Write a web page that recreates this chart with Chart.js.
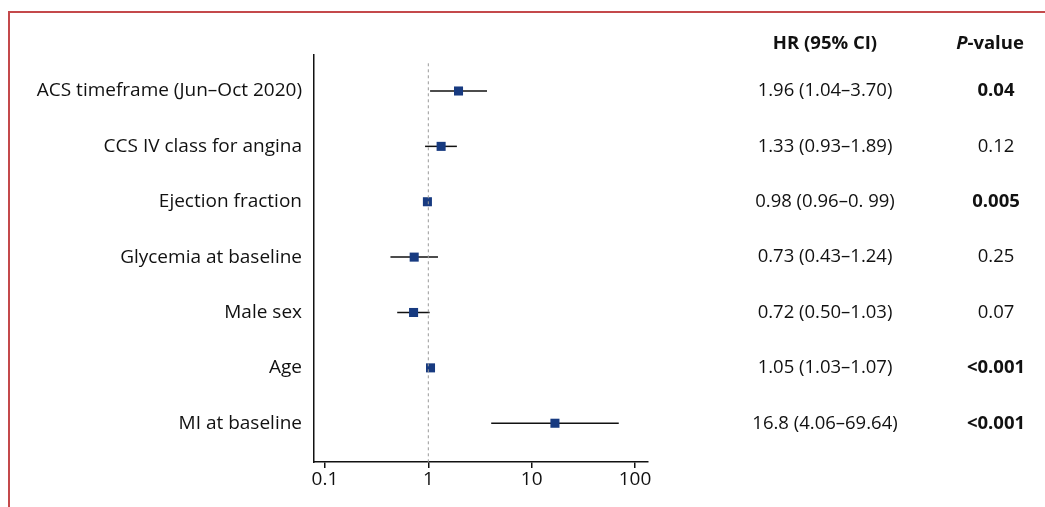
<!DOCTYPE html>
<html>
<head>
<meta charset="utf-8">
<script src="https://cdn.jsdelivr.net/npm/chart.js@4.4.1/dist/chart.umd.min.js"></script>
<style>
  body { margin: 0; background: #fff; }
  #wrap { position: relative; width: 1045px; height: 507px; }
  #frame { position: absolute; left: 8px; top: 11px; right: 0; bottom: 0; border-top: 2px solid #c4494b; border-left: 2px solid #c4494b; }
  canvas { position: absolute; left: 0; top: 0; }
</style>
</head>
<body>
<div id="wrap">
  <div id="frame"></div>
  <canvas id="forest" width="1045" height="507"></canvas>
</div>
<script>
const categories = ['ACS timeframe (Jun–Oct 2020)', 'CCS IV class for angina', 'Ejection fraction',
  'Glycemia at baseline', 'Male sex', 'Age', 'MI at baseline'];
const hr = [1.96, 1.33, 0.98, 0.73, 0.72, 1.05, 16.8];
const lower = [1.04, 0.93, 0.96, 0.43, 0.50, 1.03, 4.06];
const upper = [3.70, 1.89, 0.99, 1.24, 1.03, 1.07, 69.64];
const hrText = ['1.96 (1.04–3.70)', '1.33 (0.93–1.89)', '0.98 (0.96–0. 99)', '0.73 (0.43–1.24)',
  '0.72 (0.50–1.03)', '1.05 (1.03–1.07)', '16.8 (4.06–69.64)'];
const pText = ['0.04', '0.12', '0.005', '0.25', '0.07', '<0.001', '<0.001'];
const pBold = [true, false, true, false, false, true, true];
const xTicks = [0.1, 1, 10, 100];

const FONT = '"Open Sans", sans-serif';

// error bars under the squares
const errorBars = {
  id: 'errorBars',
  beforeDatasetsDraw(chart) {
    const { ctx, scales: { x, y } } = chart;
    ctx.save();
    ctx.strokeStyle = '#111';
    ctx.lineWidth = 1.5;
    for (let i = 0; i < hr.length; i++) {
      const py = y.getPixelForValue(i);
      ctx.beginPath();
      ctx.moveTo(x.getPixelForValue(lower[i]), py);
      ctx.lineTo(x.getPixelForValue(upper[i]), py);
      ctx.stroke();
    }
    ctx.restore();
  }
};

// HR and P-value columns
const sideTable = {
  id: 'sideTable',
  afterDraw(chart) {
    const { ctx, scales: { y } } = chart;
    ctx.save();
    ctx.fillStyle = '#111';
    ctx.textBaseline = 'middle';
    ctx.textAlign = 'center';
    const headY = 44;
    ctx.font = 'bold 18.5px ' + FONT;
    ctx.fillText('HR (95% CI)', 825, headY);
    // P-value header with italic P
    ctx.font = 'italic bold 18.5px ' + FONT;
    const wP = ctx.measureText('P').width;
    ctx.font = 'bold 18.5px ' + FONT;
    const wRest = ctx.measureText('-value').width;
    const start = 990 - (wP + wRest) / 2;
    ctx.textAlign = 'left';
    ctx.font = 'italic bold 18.5px ' + FONT;
    ctx.fillText('P', start, headY);
    ctx.font = 'bold 18.5px ' + FONT;
    ctx.fillText('-value', start + wP, headY);
    ctx.textAlign = 'center';
    for (let i = 0; i < hr.length; i++) {
      const py = y.getPixelForValue(i);
      ctx.font = '18.5px ' + FONT;
      ctx.fillText(hrText[i], 825, py);
      ctx.font = (pBold[i] ? 'bold ' : '') + '18.5px ' + FONT;
      ctx.fillText(pText[i], 996, py);
    }
    ctx.restore();
  }
};

new Chart(document.getElementById('forest').getContext('2d'), {
  type: 'scatter',
  data: {
    datasets: [
      {
        label: 'null line',
        data: [{ x: 1, y: -0.5 }, { x: 1, y: 6.7 }],
        showLine: true,
        borderColor: '#9a9a9a',
        borderWidth: 1,
        borderDash: [3, 3],
        pointRadius: 0
      },
      {
        label: 'HR',
        data: hr.map((v, i) => ({ x: v, y: i })),
        pointStyle: 'rect',
        pointRadius: 6.4,
        backgroundColor: '#173a80',
        borderColor: '#173a80',
        borderWidth: 0
      }
    ]
  },
  options: {
    responsive: false,
    animation: false,
    layout: { padding: { top: 55, right: 397, left: 0, bottom: 0 } },
    plugins: { legend: { display: false }, tooltip: { enabled: false } },
    scales: {
      x: {
        type: 'logarithmic',
        min: 0.0783,
        max: 133.6,
        afterBuildTicks: s => { s.ticks = xTicks.map(v => ({ value: v })); },
        afterFit: s => { s.height = 45; },
        ticks: {
          color: '#111',
          font: { family: FONT, size: 19 },
          padding: 0,
          callback: v => String(v)
        },
        grid: { drawOnChartArea: false, color: '#111', tickLength: 6, lineWidth: 1.5 },
        border: { color: '#111', width: 1.5 }
      },
      y: {
        type: 'linear',
        reverse: true,
        min: -0.65,
        max: 6.7,
        afterBuildTicks: s => { s.ticks = categories.map((c, i) => ({ value: i })); },
        afterFit: s => { s.width = 314; },
        ticks: {
          color: '#111',
          font: { family: FONT, size: 19 },
          padding: 4,
          callback: v => categories[v]
        },
        grid: { display: false },
        border: { display: true, color: '#111', width: 1.5 }
      }
    }
  },
  plugins: [errorBars, sideTable]
});
</script>
</body>
</html>
